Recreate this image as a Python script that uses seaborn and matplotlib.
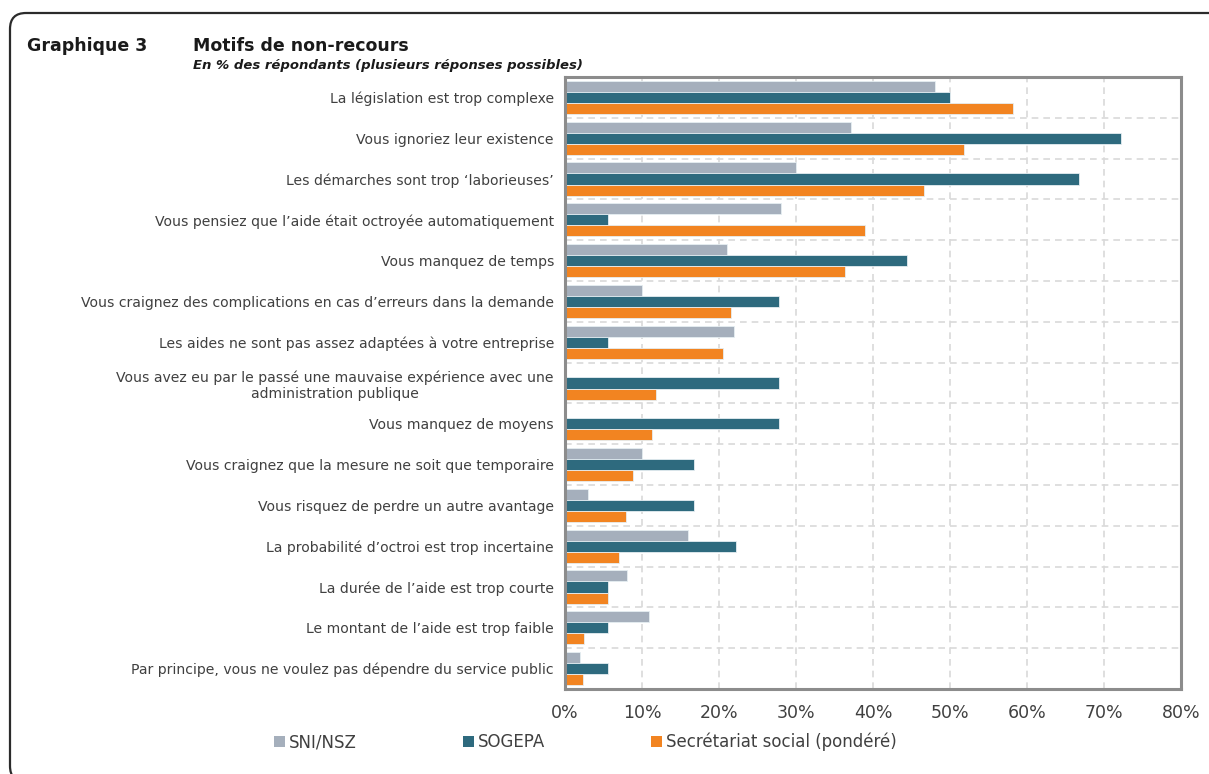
import matplotlib
matplotlib.use("Agg")
import matplotlib.pyplot as plt
from matplotlib.patches import FancyBboxPatch, Patch
from matplotlib.transforms import IdentityTransform
from matplotlib.ticker import FixedLocator, MultipleLocator, PercentFormatter
import numpy as np
import pandas as pd
import seaborn as sns

# Reasons for not claiming the aid, top to bottom
motifs = [
    "La législation est trop complexe",
    "Vous ignoriez leur existence",
    "Les démarches sont trop \u2018laborieuses\u2019",
    "Vous pensiez que l\u2019aide était octroyée automatiquement",
    "Vous manquez de temps",
    "Vous craignez des complications en cas d\u2019erreurs dans la demande",
    "Les aides ne sont pas assez adaptées à votre entreprise",
    "Vous avez eu par le passé une mauvaise expérience avec une\nadministration publique",
    "Vous manquez de moyens",
    "Vous craignez que la mesure ne soit que temporaire",
    "Vous risquez de perdre un autre avantage",
    "La probabilité d\u2019octroi est trop incertaine",
    "La durée de l\u2019aide est trop courte",
    "Le montant de l\u2019aide est trop faible",
    "Par principe, vous ne voulez pas dépendre du service public",
]

series = ["SNI/NSZ", "SOGEPA", "Secrétariat social (pondéré)"]

sni_nsz = [48.0, 37.1, 30.0, 28.0, 21.0, 10.0, 22.0, 0.0, 0.0, 10.0, 3.0, 16.0, 8.0, 10.9, 1.9]
sogepa = [50.0, 72.2, 66.7, 5.6, 44.4, 27.8, 5.6, 27.8, 27.8, 16.7, 16.7, 22.2, 5.6, 5.6, 5.6]
secretariat = [58.2, 51.8, 46.6, 39.0, 36.4, 21.6, 20.5, 11.8, 11.3, 8.8, 7.9, 7.0, 5.6, 2.5, 2.4]

colors = ["#A5AFBC", "#2E6A7E", "#F28421"]

df = pd.DataFrame({
    "motif": motifs * 3,
    "serie": np.repeat(series, len(motifs)),
    "valeur": sni_nsz + sogepa + secretariat,
})

sns.set_theme(style="white")
plt.rcParams["font.family"] = ["DejaVu Sans"]

W, H = 1209, 774
fig = plt.figure(figsize=(W / 100, H / 100), dpi=100)
ax = fig.add_axes([565 / W, 1 - 689 / H, (1181 - 565) / W, (689 - 77) / H])

sns.barplot(
    data=df, x="valeur", y="motif", hue="serie", order=motifs,
    hue_order=series, palette=colors, saturation=1, orient="h", width=0.81,
    edgecolor="#E6EEF2", linewidth=0.6, legend=False, ax=ax,
)

n = len(motifs)
ax.set_xlim(0, 80)
ax.set_ylim(n - 0.5, -0.5)
ax.set_xlabel("")
ax.set_ylabel("")

# Grid: dashed verticals every 10 %, dashed horizontals between categories
ax.xaxis.set_major_locator(MultipleLocator(10))
ax.xaxis.set_major_formatter(PercentFormatter(decimals=0))
ax.yaxis.set_minor_locator(FixedLocator(np.arange(0.5, n - 1, 1.0)))
ax.grid(axis="x", which="major", color="#D9D9D9", linestyle=(0, (4, 3)), linewidth=1.2)
ax.grid(axis="y", which="minor", color="#D9D9D9", linestyle=(0, (4, 3)), linewidth=1.2)
ax.set_axisbelow(True)

for s in ax.spines.values():
    s.set_visible(True)
    s.set_color("#8C8C8C")
    s.set_linewidth(2.2)

ax.tick_params(axis="x", which="major", direction="out", length=6, width=1.8,
               color="#8C8C8C", labelsize=12.5, labelcolor="#404040", pad=5)
ax.tick_params(axis="y", which="major", length=0, labelsize=10.1,
               labelcolor="#404040", pad=8)
ax.tick_params(axis="y", which="minor", direction="out", length=4, width=1.8,
               color="#8C8C8C")
for lab in ax.get_yticklabels():
    lab.set_multialignment("center")

# Headings
fig.text(27 / W, 1 - 46 / H, "Graphique 3", fontsize=12.5, fontweight="bold",
         color="#1A1A1A", va="center")
fig.text(193 / W, 1 - 46 / H, "Motifs de non-recours", fontsize=12.5,
         fontweight="bold", color="#1A1A1A", va="center")
fig.text(193 / W, 1 - 66 / H, "En % des répondants (plusieurs réponses possibles)",
         fontsize=9.5, fontweight="bold", fontstyle="italic", color="#1A1A1A",
         va="center")

# Legend below the chart
handles = [Patch(facecolor=c, edgecolor="none") for c in colors]
fig.legend(
    handles, series, loc="center left", bbox_to_anchor=(274 / W, 1 - 742 / H),
    ncol=3, frameon=False, fontsize=12, handlelength=0.65, handleheight=0.65,
    handletextpad=0.25, columnspacing=6.35, borderpad=0, borderaxespad=0,
    labelcolor="#404040",
)

# Rounded outer frame
frame = FancyBboxPatch(
    (10, -8), 1400, (H - 13) + 8,
    boxstyle="round,pad=0,rounding_size=16",
    transform=IdentityTransform(), facecolor="none",
    edgecolor="#2B2B2B", linewidth=1.6, zorder=-1,
)
fig.patches.append(frame)

fig.savefig("out.png", dpi=100)
